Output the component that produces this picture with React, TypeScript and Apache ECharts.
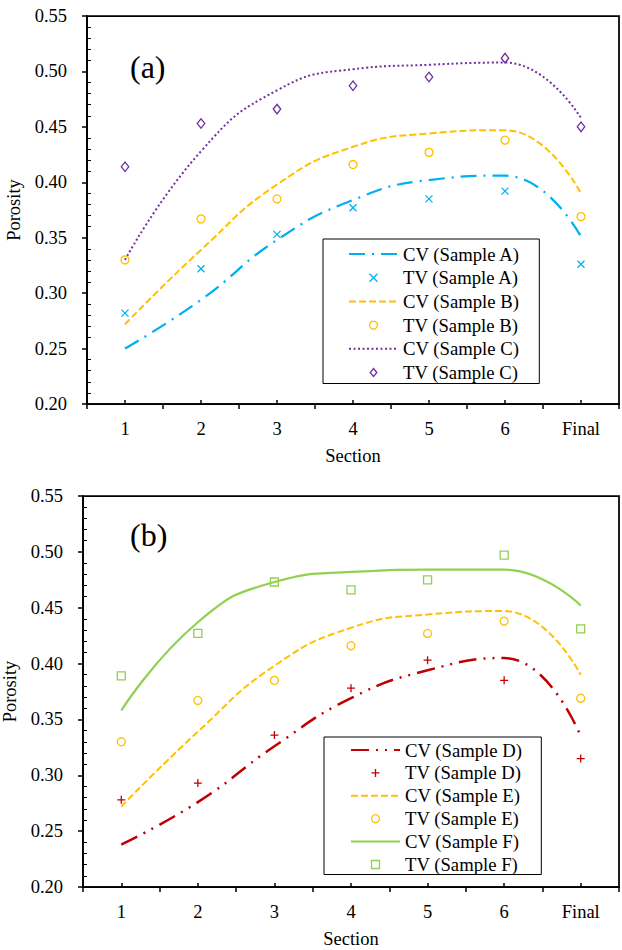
import React, { useEffect, useRef } from "react";
import * as echarts from "echarts";

const categories = ["1", "2", "3", "4", "5", "6", "Final"];
const yTicks = [0.2, 0.55, 0.05];

// Chart (a)
const cvA = [0.250, 0.294, 0.348, 0.384, 0.402, 0.406, 0.351];
const tvA = [0.282, 0.322, 0.353, 0.377, 0.385, 0.392, 0.326];
const cvB = [0.272, 0.339, 0.398, 0.432, 0.444, 0.447, 0.390];
const tvB = [0.330, 0.367, 0.385, 0.416, 0.427, 0.438, 0.369];
const cvC = [0.330, 0.428, 0.483, 0.502, 0.506, 0.508, 0.458];
const tvC = [0.414, 0.453, 0.466, 0.487, 0.495, 0.512, 0.450];

// Chart (b)
const cvD = [0.238, 0.276, 0.326, 0.369, 0.394, 0.405, 0.335];
const tvD = [0.278, 0.293, 0.336, 0.378, 0.403, 0.385, 0.315];
const cvE = [0.272, 0.339, 0.398, 0.432, 0.444, 0.447, 0.390];
const tvE = [0.330, 0.367, 0.385, 0.416, 0.427, 0.438, 0.369];
const cvF = [0.358, 0.437, 0.473, 0.482, 0.484, 0.484, 0.452];
const tvF = [0.389, 0.427, 0.473, 0.466, 0.475, 0.497, 0.431];

const FONT = '"Liberation Serif", "Times New Roman", serif';
const BLACK = "#000";
const CYAN = "#00B0F0";
const ORANGE = "#FFC000";
const PURPLE = "#7030A0";
const RED = "#C00000";
const GREEN = "#92D050";

const SYM_X = "path://M0,0L10,10M10,0L0,10";
const SYM_PLUS = "path://M5,0L5,10M0,5L10,5";
const SYM_DIAMOND = "path://M5,0L10,6L5,12L0,6Z";
const SYM_SQUARE = "path://M0,0L10,0L10,10L0,10Z";

const TICK_FS = 18.5;
const NAME_FS = 18.5;
const LEGEND_FS = 18.7;

function axesFor(gridIndex: number) {
  const [min, max, interval] = yTicks;
  const x = [
    {
      gridIndex,
      type: "category",
      data: categories,
      boundaryGap: true,
      position: "bottom",
      axisLine: { onZero: false, lineStyle: { color: BLACK, width: 1.75 } },
      axisTick: { show: true, inside: false, length: 5, lineStyle: { color: BLACK, width: 1.5 } },
      axisLabel: { interval: 0, fontSize: TICK_FS, fontFamily: FONT, color: BLACK, margin: 15 },
      splitLine: { show: false },
      name: "Section",
      nameLocation: "middle",
      nameGap: 42,
      nameTextStyle: { fontSize: NAME_FS, fontFamily: FONT, color: BLACK },
    },
    {
      gridIndex,
      type: "category",
      data: categories,
      boundaryGap: true,
      position: "bottom",
      axisLine: { show: false, onZero: false },
      axisTick: { show: true, alignWithLabel: true, inside: true, length: 4, lineStyle: { color: BLACK, width: 1.5 } },
      axisLabel: { show: false },
      splitLine: { show: false },
    },
  ];
  const y = [
    {
      gridIndex,
      type: "value",
      min,
      max,
      interval,
      position: "left",
      axisLine: { show: true, lineStyle: { color: BLACK, width: 1.75 } },
      axisTick: { show: true, inside: false, length: 5, lineStyle: { color: BLACK, width: 1.5 } },
      axisLabel: {
        fontSize: TICK_FS,
        fontFamily: FONT,
        color: BLACK,
        margin: 20,
        formatter: (v: number) => v.toFixed(2),
      },
      splitLine: { show: false },
      name: "Porosity",
      nameLocation: "middle",
      nameGap: 61,
      nameTextStyle: { fontSize: NAME_FS, fontFamily: FONT, color: BLACK },
    },
    {
      gridIndex,
      type: "value",
      min,
      max,
      interval,
      position: "left",
      axisLine: { show: false },
      axisTick: { show: false, inside: true },
      minorTick: { show: true, splitNumber: 5, length: 4, lineStyle: { color: BLACK, width: 1 } },
      axisLabel: { show: false },
      splitLine: { show: false },
    },
  ];
  return { x, y };
}

function cvSeries(name: string, data: number[], axisIdx: number, color: string, width: number, dash: any) {
  return {
    type: "line",
    name,
    data,
    xAxisIndex: axisIdx,
    yAxisIndex: axisIdx,
    smooth: true,
    symbol: "none",
    lineStyle: { color, width, type: dash },
    itemStyle: { color },
    z: 2,
  };
}

function tvSeries(name: string, data: number[], axisIdx: number, color: string, symbol: string, size: any) {
  return {
    type: "scatter",
    name,
    data,
    xAxisIndex: axisIdx,
    yAxisIndex: axisIdx,
    symbol,
    symbolSize: size,
    itemStyle: { color: "rgba(0,0,0,0)", borderColor: color, borderWidth: 1.3, opacity: 1 },
    z: 3,
  };
}

function legendFor(names: string[], left: number, top: number, gap: number, padding: number[]) {
  return {
    orient: "vertical",
    left,
    top,
    padding,
    itemWidth: 49,
    itemHeight: 8,
    itemGap: gap,
    borderColor: BLACK,
    borderWidth: 1,
    backgroundColor: "#fff",
    selectedMode: false,
    textStyle: { fontSize: LEGEND_FS, fontFamily: FONT, color: BLACK, lineHeight: 20 },
    data: names.map((n) =>
      n.startsWith("CV")
        ? { name: n, itemStyle: { opacity: 0 } }
        : { name: n, itemStyle: { borderWidth: 1.3 } }
    ),
  };
}

export default function App() {
  const ref = useRef<HTMLDivElement>(null);
  useEffect(() => {
    document.body.style.margin = "0";
    if (!ref.current) return;
    const chart = echarts.init(ref.current, undefined, { renderer: "svg" });
    const a = axesFor(0);
    const b = axesFor(1);
    const namesA = ["CV (Sample A)", "TV (Sample A)", "CV (Sample B)", "TV (Sample B)", "CV (Sample C)", "TV (Sample C)"];
    const namesB = ["CV (Sample D)", "TV (Sample D)", "CV (Sample E)", "TV (Sample E)", "CV (Sample F)", "TV (Sample F)"];
    const option: any = {
      animation: false,
      backgroundColor: "#fff",
      grid: [
        { left: 87, top: 16, right: 3, height: 388, show: true, borderColor: BLACK, borderWidth: 1.75, backgroundColor: "transparent", containLabel: false, outerBoundsMode: "none" },
        { left: 83, top: 496, right: 3, height: 391, show: true, borderColor: BLACK, borderWidth: 1.75, backgroundColor: "transparent", containLabel: false, outerBoundsMode: "none" },
      ],
      xAxis: [...a.x, ...b.x],
      yAxis: [...a.y, ...b.y],
      legend: [
        legendFor(namesA, 323, 239, 3.7, [5, 19, 1, 25]),
        legendFor(namesB, 324, 737, 2.9, [3, 19, 0, 26]),
      ],
      graphic: [
        { type: "text", left: 130, top: 51, style: { text: "(a)", font: `32px ${FONT}`, fill: BLACK } },
        { type: "text", left: 130, top: 519, style: { text: "(b)", font: `32px ${FONT}`, fill: BLACK } },
      ],
      series: [
        cvSeries(namesA[0], cvA, 0, CYAN, 2.25, [16, 7, 2, 7]),
        tvSeries(namesA[1], tvA, 0, CYAN, SYM_X, 7),
        cvSeries(namesA[2], cvB, 0, ORANGE, 2, [7, 3]),
        tvSeries(namesA[3], tvB, 0, ORANGE, "circle", 8),
        cvSeries(namesA[4], cvC, 0, PURPLE, 2, [2, 2.5]),
        tvSeries(namesA[5], tvC, 0, PURPLE, SYM_DIAMOND, [7.5, 9.5]),
        cvSeries(namesB[0], cvD, 2, RED, 2.5, [18, 7, 2, 7, 2, 7]),
        tvSeries(namesB[1], tvD, 2, RED, SYM_PLUS, 8),
        cvSeries(namesB[2], cvE, 2, ORANGE, 2, [7, 3]),
        tvSeries(namesB[3], tvE, 2, ORANGE, "circle", 8),
        cvSeries(namesB[4], cvF, 2, GREEN, 2.25, "solid"),
        tvSeries(namesB[5], tvF, 2, GREEN, SYM_SQUARE, 8),
      ],
    };
    chart.setOption(option);
    return () => chart.dispose();
  }, []);
  return <div ref={ref} style={{ position: "fixed", left: 0, top: 0, width: 622, height: 950 }} />;
}
